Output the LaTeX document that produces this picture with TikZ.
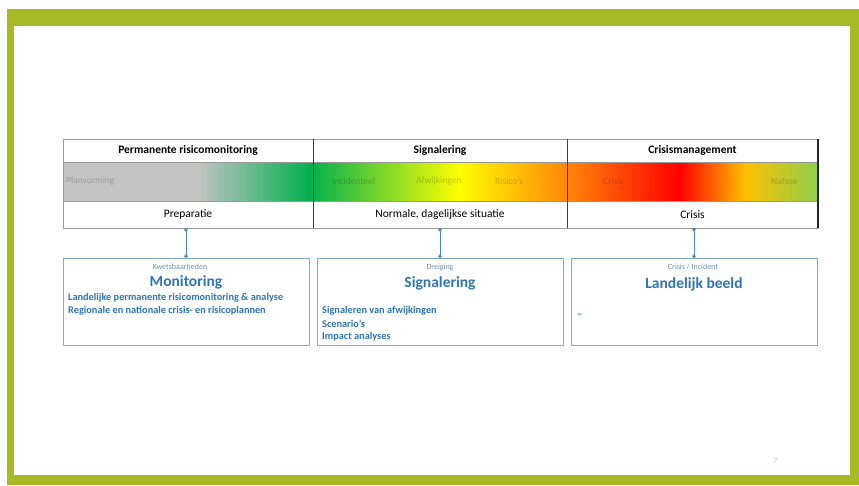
\documentclass[tikz,border=0pt]{standalone}
\usepackage{fontspec}
\setmainfont{Carlito}
\usetikzlibrary{arrows.meta}
\definecolor{frame}{HTML}{A7B924}
\definecolor{boxblue}{HTML}{7FAAD8}
\definecolor{txtblue}{HTML}{2E75B6}
\definecolor{subblue}{HTML}{6F8FB5}
\definecolor{conn}{HTML}{4A86C5}
\definecolor{gA}{HTML}{C4C4C4}
\definecolor{gB}{HTML}{00B04F}
\definecolor{gC}{HTML}{FFFF00}
\definecolor{gD}{HTML}{FF8E0A}
\definecolor{gE}{HTML}{FF0000}
\definecolor{gF}{HTML}{FFC000}
\definecolor{gG}{HTML}{8FCF4C}
\tikzset{
  cell/.style={draw=gray!80, line width=0.6pt, anchor=north west, inner sep=0pt, outer sep=0pt, minimum height=23pt},
  hdr/.style={cell, font=\bfseries\fontsize{11.5}{13}\selectfont},
  low/.style={cell, minimum height=27pt, font=\fontsize{11.5}{13}\selectfont},
  bigbox/.style={draw=boxblue, line width=0.8pt, anchor=north west, inner sep=0pt, outer sep=0pt, minimum width=246pt, minimum height=87pt},
  subt/.style={text=subblue, font=\fontsize{8}{9}\selectfont, inner sep=0pt},
  ttl/.style={text=txtblue, font=\bfseries\fontsize{15.5}{17}\selectfont, inner sep=0pt},
  itm/.style={text=txtblue, font=\bfseries\fontsize{10.3}{11}\selectfont, inner sep=0pt, anchor=west},
  glab/.style={text=black, opacity=0.2, font=\fontsize{9.5}{10}\selectfont, inner sep=0pt, anchor=west},
  link/.style={draw=conn, line width=0.8pt, {Circle[length=3.5pt]}-{Circle[length=3.5pt]}}
}
\begin{document}
\begin{tikzpicture}[x=1pt,y=-1pt]
\useasboundingbox (0,0) rectangle (859,485);
\fill[white] (0,0) rectangle (859,485);
\fill[frame] (7,9) rectangle (859,485);
\fill[white] (14,26) rectangle (850,475);

% gradient bar
\fill[gA] (63,162) rectangle (198,201);
\shade[left color=gA, right color=gB] (197.5,162) rectangle (310,201);
\shade[left color=gB, right color=gC] (309.5,162) rectangle (460,201);
\shade[left color=gC, right color=gD] (459.5,162) rectangle (560,201);
\shade[left color=gD, right color=gE] (559.5,162) rectangle (680,201);
\shade[left color=gE, right color=gF] (679.5,162) rectangle (745,201);
\shade[left color=gF, right color=gG] (744.5,162) rectangle (818,201);
\draw[gray!80, line width=0.6pt] (63,162) rectangle (818,201);
\draw[black!75, line width=0.6pt] (313,162) -- (313,201) (567,162) -- (567,201);

\node[glab] (l1) at (66,181.5) {Planvorming};
\node[glab] (l2) at (332,181.5) {Incidenteel};
\node[glab] (l3) at (416,181.5) {Afwijkingen};
\node[glab] (l4) at (495,181.5) {Risico's};
\node[glab] (l5) at (603,181.5) {Crisis};
\node[glab] (l6) at (771,181.5) {Nafase};

% header row
\node[hdr, minimum width=250pt] (h1) at (63,139) {Permanente risicomonitoring};
\node[hdr, minimum width=254pt] (h2) at (313,139) {Signalering};
\node[hdr, minimum width=251pt] (h3) at (567,139) {Crisismanagement};
% bottom row
\node[low, minimum width=250pt] (b1) at (63,201) {Preparatie};
\node[low, minimum width=254pt] (b2) at (313,201) {Normale, dagelijkse situatie};
\node[low, minimum width=251pt] (b3) at (567,201) {Crisis};
\draw[black!75, line width=0.6pt] (313,139) -- (313,228) (567,139) -- (567,228);
\draw[black!85, line width=1.3pt] (818,139) -- (818,228);

% boxes
\node[bigbox] (m1) at (63,258) {};
\node[bigbox] (m2) at (317,258) {};
\node[bigbox] (m3) at (571,258) {};

\node[subt] (s1) at (180,267) {Kwetsbaarheden};
\node[ttl] (t1) at (186,282) {Monitoring};
\node[itm] (i11) at (68,298) {Landelijke permanente risicomonitoring \& analyse};
\node[itm] (i12) at (68,311) {Regionale en nationale crisis- en risicoplannen};

\node[subt] (s2) at (440,267) {Dreiging};
\node[ttl] (t2) at (440,283) {Signalering};
\node[itm] (i21) at (322,311) {Signaleren van afwijkingen};
\node[itm] (i22) at (322,324) {Scenario's};
\node[itm] (i23) at (322,337) {Impact analyses};

\node[subt] (s3) at (693,267) {Crisis / Incident};
\node[ttl] (t3) at (694,284) {Landelijk beeld};
\node[itm] (i31) at (577,316) {–};

% connectors
\draw[link] (b1.south -| m1.north) -- (m1.north);
\draw[link] (b2.south -| m2.north) -- (m2.north);
\draw[link] (b3.south -| m3.north) -- (m3.north);

\node[text=gray!70, font=\fontsize{6}{7}\selectfont, inner sep=0pt] (pg) at (776,461) {7};
\end{tikzpicture}
\end{document}
